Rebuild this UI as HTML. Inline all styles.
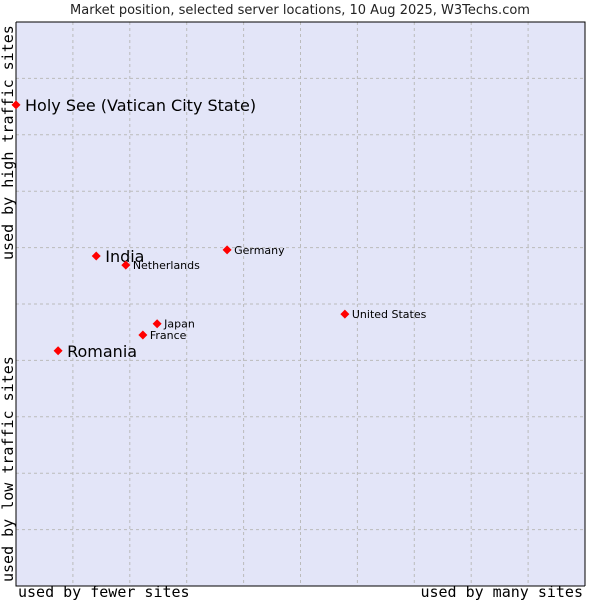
<!DOCTYPE html>
<html><head><meta charset="utf-8"><style>
body{margin:0;background:#fff;}
svg{display:block;}
</style></head><body>
<svg id="chart" width="600" height="600" xmlns="http://www.w3.org/2000/svg">
<rect x="0" y="0" width="600" height="600" fill="#fff"/>
<text x="300" y="14" text-anchor="middle" font-family="DejaVu Sans, sans-serif" font-size="13" fill="#222">Market position, selected server locations, 10 Aug 2025, W3Techs.com</text>
<rect x="16" y="22" width="569" height="564" fill="#e3e5f8"/>
<g id="grid"></g>
<path d="M16 22 V586 H585" fill="none" stroke="#000" stroke-width="1"/>
<path d="M16 22 H585 V586" fill="none" stroke="#000" stroke-width="1"/>
<text x="18" y="597" font-family="DejaVu Sans Mono, monospace" font-size="15" fill="#000">used by fewer sites</text>
<text x="583" y="597" text-anchor="end" font-family="DejaVu Sans Mono, monospace" font-size="15" fill="#000">used by many sites</text>
<text transform="translate(13,582) rotate(-90)" font-family="DejaVu Sans Mono, monospace" font-size="15" fill="#000">used by low traffic sites</text>
<text transform="translate(13,260) rotate(-90)" font-family="DejaVu Sans Mono, monospace" font-size="15" fill="#000">used by high traffic sites</text>
<g id="points"></g>
</svg>
<script>
const categories = ["Holy See (Vatican City State)","India","Netherlands","Germany","United States","Japan","France","Romania"];
const xValues = [0, 14.1, 19.3, 37.1, 57.8, 24.8, 22.3, 7.4];
const yValues = [85.3, 58.5, 56.9, 59.6, 48.2, 46.5, 44.5, 41.7];
const bigLabel = [true, true, false, false, false, false, false, true];
const ns = "http://www.w3.org/2000/svg";
const X0=16, X1=585, Y0=586, Y1=22;
function sx(v){return X0+(X1-X0)*v/100;}
function sy(v){return Y0-(Y0-Y1)*v/100;}
const grid=document.getElementById('grid');
for(let i=1;i<10;i++){
  const l=document.createElementNS(ns,'line');
  l.setAttribute('x1',sx(i*10));l.setAttribute('x2',sx(i*10));l.setAttribute('y1',Y1);l.setAttribute('y2',Y0);
  l.setAttribute('stroke','#bbb');l.setAttribute('stroke-dasharray','3,3');
  
  
  grid.appendChild(l);
  const h=document.createElementNS(ns,'line');
  h.setAttribute('y1',sy(i*10));h.setAttribute('y2',sy(i*10));h.setAttribute('x1',X0);h.setAttribute('x2',X1);
  h.setAttribute('stroke','#bbb');h.setAttribute('stroke-dasharray','3,3');
  
  
  grid.appendChild(h);
}
const pts=document.getElementById('points');
categories.forEach((c,i)=>{
  const x=sx(xValues[i]), y=sy(yValues[i]);
  const d=document.createElementNS(ns,'path');
  d.setAttribute('d',`M${x} ${y-4.5} L${x+4.5} ${y} L${x} ${y+4.5} L${x-4.5} ${y} Z`);
  d.setAttribute('fill','#f00');
  
  
  pts.appendChild(d);
  const t=document.createElementNS(ns,'text');
  const big=bigLabel[i];
  t.setAttribute('x',x+(big?9:7));t.setAttribute('y',y+(big?6:4));
  t.setAttribute('font-family','DejaVu Sans, sans-serif');
  t.setAttribute('font-size',big?16:11);
  t.setAttribute('fill','#000');
  t.textContent=c;
  
  
  pts.appendChild(t);
});
</script>
</body></html>
